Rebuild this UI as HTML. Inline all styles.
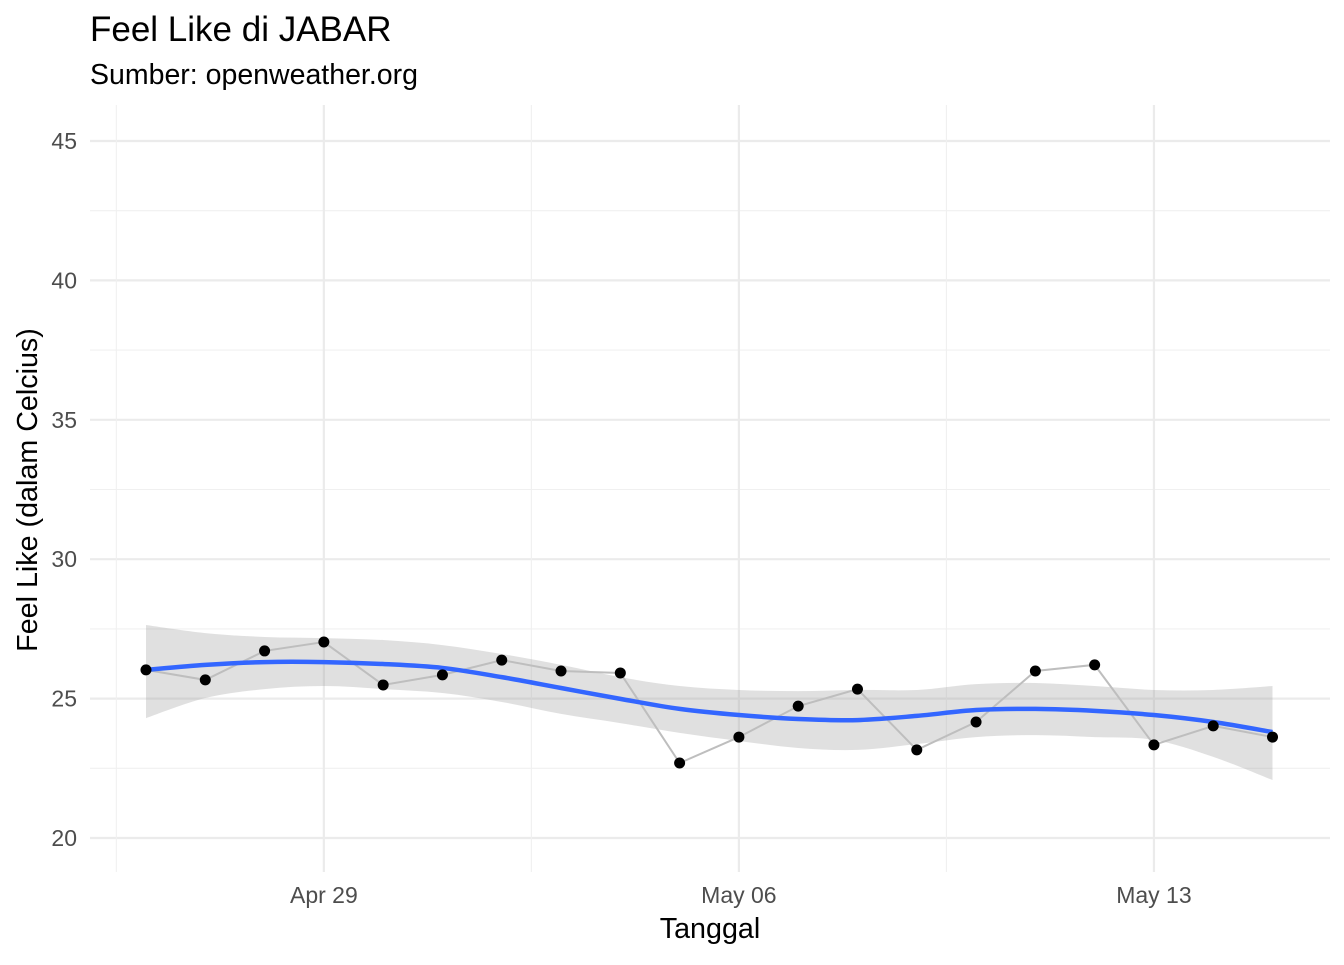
<!DOCTYPE html>
<html><head><meta charset="utf-8"><style>
body{margin:0;background:#fff;}
svg text{font-family:"Liberation Sans",sans-serif;}
</style></head><body>
<svg id="chart" width="1344" height="960" xmlns="http://www.w3.org/2000/svg">
<rect width="1344" height="960" fill="#fff"/>
<text x="90" y="41" font-size="35" fill="#000">Feel Like di JABAR</text>
<text x="90" y="84" font-size="28.5" fill="#000">Sumber: openweather.org</text>
<text x="710" y="938" font-size="28.7" text-anchor="middle" fill="#000">Tanggal</text>
<text transform="translate(37,490) rotate(-90)" font-size="28.7" text-anchor="middle" fill="#000">Feel Like (dalam Celcius)</text>
<g id="grid"></g><g id="marks"></g><g id="axes"></g>
</svg>
<script>
const dayOffsets=[0,1,2,3,4,5,6,7,8,9,10,11,12,13,14,15,16,17,18,19];
const feelLike=[26.03,25.67,26.71,27.03,25.49,25.85,26.38,25.99,25.92,22.69,23.62,24.73,25.34,23.16,24.16,25.99,26.21,23.34,24.02,23.62];
const smoothVals=[26.03,26.21,26.31,26.31,26.24,26.10,25.77,25.38,24.99,24.63,24.41,24.27,24.23,24.38,24.59,24.63,24.56,24.41,24.16,23.80];
const upperVals=[27.64,27.35,27.21,27.17,27.10,26.92,26.60,26.21,25.77,25.45,25.31,25.27,25.31,25.31,25.52,25.56,25.45,25.31,25.31,25.45];
const lowerVals=[24.30,25.02,25.34,25.45,25.34,25.20,24.88,24.45,24.12,23.77,23.48,23.23,23.16,23.37,23.62,23.69,23.62,23.52,22.91,22.08];
const yTicks=[20,25,30,35,40,45];
const xTickDays=[3,10,17];
const xTickLabels=["Apr 29","May 06","May 13"];
const NS="http://www.w3.org/2000/svg";
const X=d=>146+d*59.29;
const Y=v=>838-(v-20)*27.88;
function mk(tag,attrs,parent){const e=document.createElementNS(NS,tag);for(const k in attrs)e.setAttribute(k,attrs[k]);parent.appendChild(e);return e;}
const grid=document.getElementById('grid'),marks=document.getElementById('marks'),axes=document.getElementById('axes');
yTicks.forEach((t,i)=>{
 let l=mk('line',{x1:90,x2:1330,y1:Y(t),y2:Y(t),stroke:'#ebebeb','stroke-width':2.2},grid);
 
 
 if(i<yTicks.length-1){let m=mk('line',{x1:90,x2:1330,y1:Y(t+2.5),y2:Y(t+2.5),stroke:'#f0f0f0','stroke-width':1.1},grid);
 
 }
 let tx=mk('text',{x:77,y:Y(t)+8,'font-size':23,'text-anchor':'end',fill:'#4d4d4d'},axes);tx.textContent=t;
 
 
});
[-0.5,6.5,13.5].forEach(d=>{let m=mk('line',{x1:X(d),x2:X(d),y1:105,y2:872,stroke:'#f0f0f0','stroke-width':1.1},grid);
 
 });
xTickDays.forEach((d,i)=>{
 let l=mk('line',{x1:X(d),x2:X(d),y1:105,y2:872,stroke:'#ebebeb','stroke-width':2.2},grid);
 
 
 let tx=mk('text',{x:X(d),y:903,'font-size':23,'text-anchor':'middle',fill:'#4d4d4d'},axes);tx.textContent=xTickLabels[i];
 
 
});
function smoothPath(pts){let d='M'+pts[0][0]+','+pts[0][1];
 for(let i=0;i<pts.length-1;i++){const p0=pts[Math.max(0,i-1)],p1=pts[i],p2=pts[i+1],p3=pts[Math.min(pts.length-1,i+2)];
 d+=' C'+(p1[0]+(p2[0]-p0[0])/6)+','+(p1[1]+(p2[1]-p0[1])/6)+' '+(p2[0]-(p3[0]-p1[0])/6)+','+(p2[1]-(p3[1]-p1[1])/6)+' '+p2[0]+','+p2[1];}
 return d;}
const up=dayOffsets.map((d,i)=>[X(d),Y(upperVals[i])]);
const lo=dayOffsets.map((d,i)=>[X(d),Y(lowerVals[i])]).reverse();
let band=mk('path',{d:smoothPath(up)+' L'+smoothPath(lo).slice(1)+' Z',fill:'#999',opacity:0.3},marks);


let ln=mk('polyline',{points:dayOffsets.map((d,i)=>X(d)+','+Y(feelLike[i])).join(' '),fill:'none',stroke:'#bebebe','stroke-width':2},marks);


let sm=mk('path',{d:smoothPath(dayOffsets.map((d,i)=>[X(d),Y(smoothVals[i])])),fill:'none',stroke:'#3366ff','stroke-width':4.5},marks);


dayOffsets.forEach((d,i)=>{let c=mk('circle',{cx:X(d),cy:Y(feelLike[i]),r:5.5,fill:'#000'},marks);
 
 });
</script>
</body></html>
